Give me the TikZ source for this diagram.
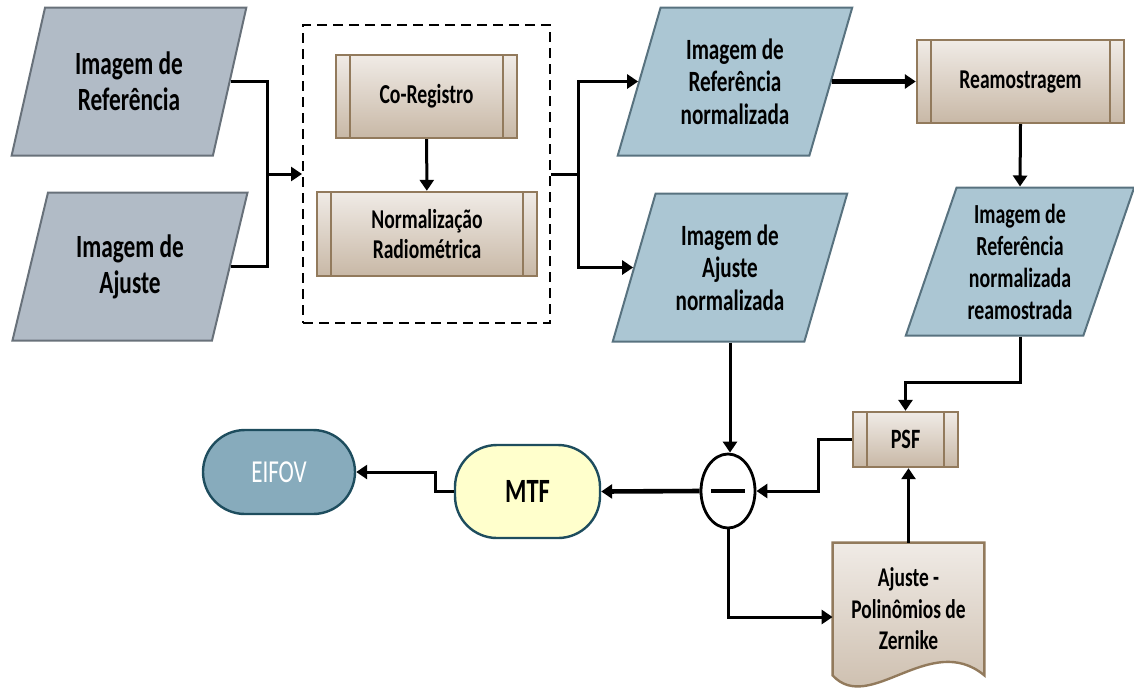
\documentclass[tikz,border=0pt]{standalone}
\usepackage{fontspec}
\setmainfont{Carlito}[FakeStretch=0.72]
\usetikzlibrary{arrows.meta,shapes.geometric,positioning,backgrounds}

\definecolor{imggray}{RGB}{177,187,198}
\definecolor{imggrayline}{RGB}{104,113,122}
\definecolor{imgblue}{RGB}{171,198,211}
\definecolor{imgblueline}{RGB}{88,114,127}
\definecolor{proctop}{RGB}{240,235,230}
\definecolor{procbot}{RGB}{200,184,166}
\definecolor{procline}{RGB}{146,122,92}
\definecolor{termline}{RGB}{30,77,94}
\definecolor{termblue}{RGB}{135,171,188}
\definecolor{termyellow}{RGB}{255,255,204}

\newcommand{\txtsize}[2]{\fontsize{#1}{#2}\selectfont}

\tikzset{
  conn/.style={line width=1.5pt},
  flow/.style={conn,-{Triangle[length=5.5pt,width=7pt]}},
  bigflow/.style={flow,line width=2.3pt},
  imgbox/.style={trapezium,trapezium left angle=70,trapezium right angle=110,
    trapezium stretches=true,minimum width=118pt,minimum height=74pt,
    inner sep=0pt,line width=1pt,align=center},
  imgin/.style={imgbox,draw=imggrayline,fill=imggray,font=\txtsize{16.2}{18}\bfseries},
  imgout/.style={imgbox,draw=imgblueline,fill=imgblue,font=\txtsize{14.7}{16.3}\bfseries},
  proc/.style={rectangle,draw=procline,line width=1.2pt,top color=proctop,
    bottom color=procbot,align=center,inner sep=0pt,
    path picture={
      \draw[procline,line width=1.2pt]
        ([xshift=7pt]path picture bounding box.north west) --
        ([xshift=7pt]path picture bounding box.south west)
        ([xshift=-7pt]path picture bounding box.north east) --
        ([xshift=-7pt]path picture bounding box.south east);}},
  term/.style={rectangle,rounded corners=21pt,draw=termline,line width=1.2pt,
    align=center,inner sep=0pt},
  docfill/.style={draw=procline,line width=1.2pt,top color=proctop,bottom color=procbot}
}

\begin{document}
\begin{tikzpicture}[x=0.5pt,y=-0.5pt]
\useasboundingbox (0,0) rectangle (1134,687);

\node[imgin] (refimg) at (129,81.5) {Imagem de\\Referência};
\node[imgin] (ajimg) at (130,266.5) {Imagem de\\Ajuste};

\node[draw,dashed,line width=1pt,dash pattern=on 5pt off 3pt,minimum width=123.5pt,minimum height=149pt] (grp) at (426.5,174) {};
\node[proc,minimum width=90.5pt,minimum height=41.5pt,font=\txtsize{13.7}{15}\bfseries] (coreg) at (426.5,96.5) {Co-Registro};
\node[proc,minimum width=110pt,minimum height=42pt,font=\txtsize{13.6}{15}\bfseries] (normrad) at (427,234) {Normalização\\Radiométrica};

\node[imgout] (refnorm) at (735,81.5) {Imagem de\\Referência\\normalizada};
\node[imgout] (ajnorm) at (730,267.5) {Imagem de\\Ajuste\\normalizada};
\node[proc,minimum width=103.5pt,minimum height=41.5pt,font=\txtsize{13.6}{15}\bfseries] (ream) at (1020.5,81.5) {Reamostragem};
\node[imgout,minimum width=115pt,font=\txtsize{13.8}{16}\bfseries] (reamost) at (1020,261.5) {Imagem de\\Referência\\normalizada\\reamostrada};

\node[proc,minimum width=52.5pt,minimum height=27.5pt,font=\txtsize{14}{16}\bfseries] (psf) at (905.5,439.5) {PSF};
\node[minimum width=75.5pt,minimum height=66pt,inner sep=0pt,align=center,font=\txtsize{13.5}{15.75}\bfseries] (zrn) at (908.5,609) {Ajuste -\\Polinômios de\\Zernike};
\begin{scope}[on background layer]
  \path[docfill] (zrn.north west) -- (zrn.north east) -- (zrn.south east)
    .. controls +(-54,-45) and +(37,40) .. (zrn.south west) -- cycle;
\end{scope}

\node[ellipse,draw,line width=1.4pt,fill=white,minimum width=27pt,minimum height=37pt,inner sep=0pt] (sub) at (728,491) {\rule[-1pt]{17pt}{2.4pt}};
\node[term,fill=termyellow,minimum width=72.5pt,minimum height=46.5pt,font=\txtsize{17}{19}\bfseries] (mtf) at (527.5,491.5) {MTF};
\node[term,fill=termblue,minimum width=76pt,minimum height=42pt,text=white,font=\txtsize{16}{17}] (eifov) at (279,472) {EIFOV};

\coordinate (j1) at (267,174);
\coordinate (j2) at (578,174);

\draw[conn] (refimg.east) -| (j1);
\draw[conn] (ajimg.east) -| (j1);
\draw[flow] (j1) -- (grp.west);
\draw[flow] (coreg) -- (normrad);
\draw[conn] (grp.east) -- (j2);
\draw[flow] (j2) |- (refnorm.west);
\draw[flow] (j2) |- (ajnorm.west);
\draw[bigflow] (refnorm.east) -- (ream.west);
\draw[flow] (ream.south) -- (reamost.north);
\draw[flow] (reamost.south) -- ++(0,46) -| (psf.north);
\draw[flow] (psf.west) -- ++(-33,0) |- (sub.east);
\draw[flow] (zrn.north) -- (zrn.north |- psf.south);
\draw[flow] (ajnorm.south) -- (ajnorm.south |- sub.north);
\draw[flow] (sub.south) |- ([yshift=-4pt]zrn.west);
\draw[bigflow] (sub.west) -- (mtf.east);
\draw[flow] (mtf.west) -- ++(-18,0) |- (eifov.east);
\end{tikzpicture}
\end{document}
